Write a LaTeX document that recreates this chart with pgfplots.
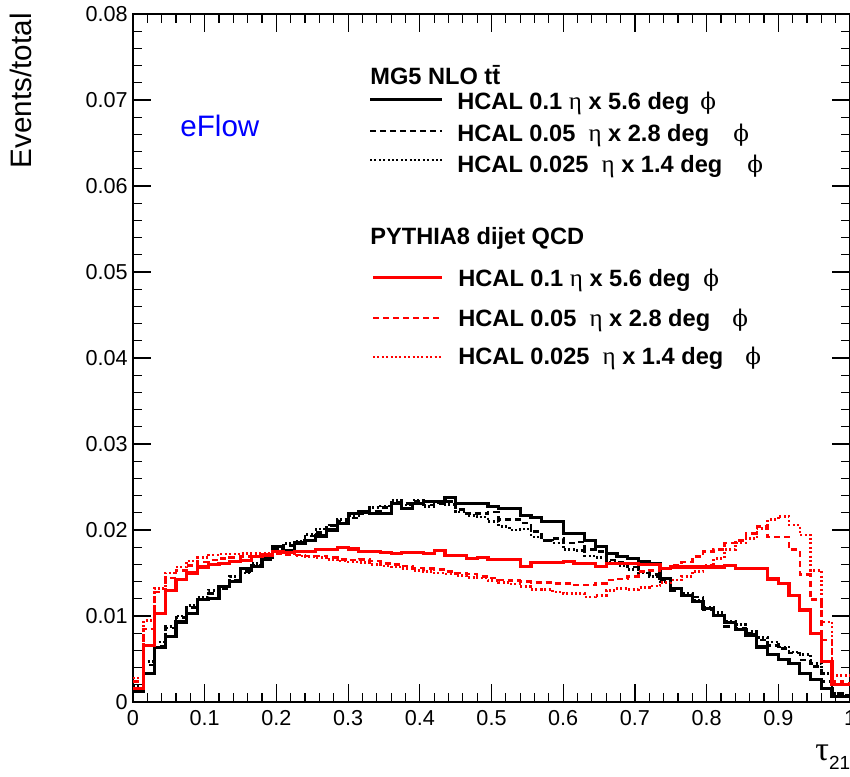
\documentclass[border=0pt]{standalone}
\usepackage{fontspec}
\setmainfont{Liberation Sans}
\newfontfamily\greek{Liberation Serif}
\newfontfamily\phifont{DejaVu Serif}
\usepackage{pgfplots}
\usepackage{pgfplotstable}
\pgfplotsset{compat=1.18}

% bin left edges (width 0.015), last row closes the final bin at x=1
\pgfplotstableread{
x      bs      bd      bt      rs      rd      rt
0      0.0012  0.0015  0.0018  0.0016  0.0024  0.0028
0.015  0.0033  0.0043  0.0047  0.0066  0.0085  0.0095
0.03   0.0063  0.0065  0.0070  0.0103  0.0128  0.0132
0.045  0.0076  0.0086  0.0088  0.0130  0.0144  0.0150
0.06   0.0093  0.0098  0.0100  0.0142  0.0153  0.0157
0.075  0.0103  0.0110  0.0112  0.0150  0.0159  0.0164
0.09   0.0119  0.0119  0.0122  0.0157  0.0163  0.0168
0.105  0.0120  0.0126  0.0130  0.0160  0.0165  0.0171
0.12   0.0134  0.0132  0.0135  0.0161  0.0167  0.0172
0.135  0.0140  0.0142  0.0146  0.0163  0.0168  0.0172
0.15   0.0155  0.0152  0.0150  0.0165  0.0169  0.0173
0.165  0.0158  0.0159  0.0161  0.0169  0.0170  0.0173
0.18   0.0168  0.0165  0.0166  0.0171  0.0172  0.0173
0.195  0.0181  0.0178  0.0178  0.0175  0.0172  0.0172
0.21   0.0176  0.0182  0.0184  0.0174  0.0171  0.0172
0.225  0.0185  0.0185  0.0187  0.0175  0.0171  0.0170
0.24   0.0188  0.0193  0.0195  0.0175  0.0170  0.0169
0.255  0.0193  0.0197  0.0201  0.0177  0.0170  0.0168
0.27   0.0200  0.0205  0.0206  0.0177  0.0168  0.0166
0.285  0.0208  0.0210  0.0212  0.0180  0.0166  0.0164
0.3    0.0219  0.0214  0.0217  0.0178  0.0165  0.0163
0.315  0.0221  0.0219  0.0221  0.0175  0.0166  0.0162
0.33   0.0219  0.0222  0.0226  0.0175  0.0164  0.0160
0.345  0.0219  0.0226  0.0228  0.0174  0.0161  0.0158
0.36   0.0231  0.0232  0.0234  0.0173  0.0160  0.0157
0.375  0.0225  0.0231  0.0229  0.0174  0.0158  0.0155
0.39   0.0231  0.0233  0.0235  0.0174  0.0156  0.0153
0.405  0.0233  0.0229  0.0227  0.0173  0.0155  0.0152
0.42   0.0233  0.0231  0.0232  0.0176  0.0154  0.0150
0.435  0.0238  0.0233  0.0230  0.0170  0.0152  0.0149
0.45   0.0231  0.0224  0.0221  0.0170  0.0150  0.0147
0.465  0.0231  0.0219  0.0217  0.0167  0.0149  0.0145
0.48   0.0231  0.0219  0.0215  0.0168  0.0146  0.0144
0.495  0.0227  0.0221  0.0210  0.0166  0.0144  0.0141
0.51   0.0225  0.0212  0.0204  0.0166  0.0142  0.0139
0.525  0.0225  0.0212  0.0200  0.0166  0.0141  0.0137
0.54   0.0217  0.0208  0.0201  0.0158  0.0140  0.0134
0.555  0.0215  0.0198  0.0192  0.0162  0.0139  0.0131
0.57   0.0210  0.0188  0.0188  0.0162  0.0139  0.0131
0.585  0.0210  0.0190  0.0185  0.0162  0.0138  0.0128
0.6    0.0196  0.0185  0.0177  0.0163  0.0138  0.0126
0.615  0.0196  0.0186  0.0176  0.0161  0.0136  0.0126
0.63   0.0188  0.0177  0.0170  0.0161  0.0136  0.0122
0.645  0.0181  0.0175  0.0168  0.0158  0.0138  0.0124
0.66   0.0173  0.0165  0.0163  0.0161  0.0142  0.0130
0.675  0.0169  0.0163  0.0159  0.0161  0.0143  0.0132
0.69   0.0167  0.0157  0.0154  0.0161  0.0146  0.0131
0.705  0.0163  0.0152  0.0150  0.0160  0.0152  0.0133
0.72   0.0161  0.0148  0.0146  0.0160  0.0153  0.0135
0.735  0.0144  0.0142  0.0140  0.0155  0.0155  0.0139
0.75   0.0132  0.0130  0.0132  0.0157  0.0159  0.0142
0.765  0.0124  0.0124  0.0126  0.0157  0.0163  0.0146
0.78   0.0117  0.0122  0.0118  0.0157  0.0169  0.0152
0.795  0.0109  0.0107  0.0110  0.0157  0.0175  0.0159
0.81   0.0101  0.0101  0.0104  0.0157  0.0177  0.0167
0.825  0.0092  0.0088  0.0094  0.0159  0.0185  0.0177
0.84   0.0084  0.0086  0.0090  0.0155  0.0188  0.0185
0.855  0.0078  0.0080  0.0082  0.0155  0.0196  0.0190
0.87   0.0064  0.0072  0.0075  0.0155  0.0204  0.0202
0.885  0.0055  0.0066  0.0070  0.0143  0.0192  0.0212
0.9    0.0049  0.0062  0.0064  0.0138  0.0192  0.0216
0.915  0.0045  0.0057  0.0058  0.0124  0.0177  0.0206
0.93   0.0033  0.0049  0.0055  0.0107  0.0148  0.0194
0.945  0.0026  0.0041  0.0045  0.0080  0.0119  0.0153
0.96   0.0016  0.0024  0.0033  0.0047  0.0072  0.0093
0.975  0.0006  0.0010  0.0010  0.0020  0.0024  0.0031
0.99   0.0006  0.0008  0.0008  0.0020  0.0022  0.0031
1.0    0.0006  0.0008  0.0008  0.0020  0.0022  0.0031
}\histdata

\newcommand{\gk}[1]{{\greek\mdseries\fontsize{12.5}{13}\selectfont #1}}
\newcommand{\gphi}{{\phifont\mdseries\fontsize{11.5}{13}\selectfont ϕ}}

\begin{document}
\begin{tikzpicture}
\begin{axis}[
  at={(66.5pt,37pt)}, anchor=south west,
  scale only axis, width=358.5pt, height=344pt,
  xmin=0, xmax=1, ymin=0, ymax=0.08,
  xtick={0,0.1,0.2,0.3,0.4,0.5,0.6,0.7,0.8,0.9,1},
  xticklabels={0,0.1,0.2,0.3,0.4,0.5,0.6,0.7,0.8,0.9,1},
  ytick={0,0.01,0.02,0.03,0.04,0.05,0.06,0.07,0.08},
  yticklabels={0,0.01,0.02,0.03,0.04,0.05,0.06,0.07,0.08},
  minor x tick num=4, minor y tick num=4,
  tick align=inside,
  major tick length=9pt, minor tick length=4.5pt,
  tick style={black, line width=0.6pt},
  axis line style={line width=0.8pt},
  ticklabel style={font=\fontsize{10.8}{12}\selectfont},
  xticklabel style={inner sep=0pt, yshift=-4pt},
  yticklabel style={inner sep=0pt, xshift=-2.5pt},
  const plot,
]
\addplot[black, line width=1.6pt] table[x=x,y=bs]{\histdata};
\addplot[black, line width=1.3pt, dash pattern=on 3pt off 2pt] table[x=x,y=bd]{\histdata};
\addplot[black, line width=1.3pt, dash pattern=on 1pt off 1.2pt] table[x=x,y=bt]{\histdata};
\addplot[red, line width=1.6pt] table[x=x,y=rs]{\histdata};
\addplot[red, line width=1.3pt, dash pattern=on 3pt off 2pt] table[x=x,y=rd]{\histdata};
\addplot[red, line width=1.3pt, dash pattern=on 1pt off 1.2pt] table[x=x,y=rt]{\histdata};
\end{axis}

% axis titles
\node[rotate=90, anchor=base east, inner sep=0pt, font=\fontsize{14.8}{16}\selectfont]
  at (16pt,381.5pt) {Events/total};
\node[anchor=base west, inner sep=0pt]
  at (407.5pt,8pt) {{\greek\fontsize{17}{18}\selectfont τ}\raisebox{-4.5pt}{\fontsize{9.5}{11}\selectfont 21}};
\node[anchor=base west, inner sep=0pt, text=blue, font=\fontsize{14.8}{16}\selectfont]
  at (90pt,319.5pt) {eFlow};

% legend
\begin{scope}[every node/.style={anchor=base west, inner sep=0pt,
    font=\fontsize{11.8}{13}\selectfont\bfseries}]
\node at (185pt,345.5pt) {MG5 NLO t\={t}};
\draw[black, line width=1.5pt] (185pt,338pt) -- (221pt,338pt);
\node at (228.5pt,333pt) {HCAL 0.1 \gk{η} x 5.6 deg};
\node at (350pt,333pt) {\gphi};
\draw[black, line width=1.2pt, dash pattern=on 3pt off 2pt] (185pt,322.5pt) -- (221pt,322.5pt);
\node at (228.5pt,317pt) {HCAL 0.05\ \ \gk{η} x 2.8 deg};
\node at (366.5pt,317pt) {\gphi};
\draw[black, line width=1.2pt, dash pattern=on 1pt off 1.2pt] (185pt,308pt) -- (221pt,308pt);
\node at (228.5pt,301.5pt) {HCAL 0.025\ \ \gk{η} x 1.4 deg};
\node at (373.5pt,301.5pt) {\gphi};

\node at (185pt,265.5pt) {PYTHIA8 dijet QCD};
\draw[red, line width=1.5pt] (186.5pt,249pt) -- (221pt,249pt);
\node at (229pt,244.7pt) {HCAL 0.1 \gk{η} x 5.6 deg};
\node at (351.5pt,244.7pt) {\gphi};
\draw[red, line width=1.2pt, dash pattern=on 3pt off 2pt] (186.5pt,229pt) -- (221pt,229pt);
\node at (229pt,224.7pt) {HCAL 0.05\ \ \gk{η} x 2.8 deg};
\node at (366pt,224.7pt) {\gphi};
\draw[red, line width=1.2pt, dash pattern=on 1pt off 1.2pt] (186.5pt,209.5pt) -- (221pt,209.5pt);
\node at (229pt,205.5pt) {HCAL 0.025\ \ \gk{η} x 1.4 deg};
\node at (372.5pt,205.5pt) {\gphi};
\end{scope}

\pgfresetboundingbox
\path[use as bounding box] (0,0) rectangle (425pt,388pt);
\end{tikzpicture}
\end{document}
